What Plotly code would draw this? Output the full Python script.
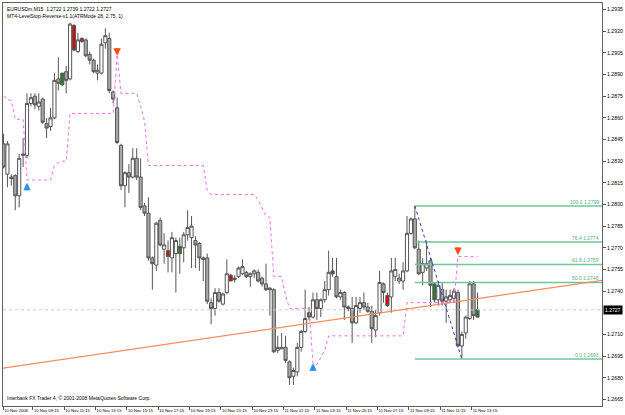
import plotly.graph_objects as go

# ---------------- data ----------------
opens = [
1.2842,1.2821,1.2819,1.2820,1.2806,1.2834,1.2834,1.2870,1.2875,1.2868,
1.2873,1.2856,1.2854,1.2860,1.2887,1.2883,1.2892,1.2887,1.2924,1.2906,
1.2915,1.2914,1.2904,1.2900,1.2891,1.2891,1.2912,1.2915,1.2878,1.2867,
1.2841,1.2813,1.2822,1.2819,1.2832,1.2819,1.2799,1.2794,1.2763,1.2758,
1.2789,1.2769,1.2768,1.2763,1.2766,1.2766,1.2770,1.2779,1.2777,1.2775,
1.2773,1.2763,1.2763,1.2732,1.2728,1.2739,1.2731,1.2739,1.2751,1.2748,
1.2750,1.2752,1.2753,1.2750,1.2752,1.2753,1.2749,1.2745,1.2742,1.2741,
1.2699,1.2700,1.2701,1.2691,1.2681,1.2684,1.2701,1.2712,1.2722,1.2722,
1.2734,1.2728,1.2734,1.2741,1.2754,1.2750,1.2736,1.2739,1.2728,1.2728,
1.2718,1.2728,1.2732,1.2729,1.2726,1.2713,1.2725,1.2745,1.2737,1.2736,
1.2750,1.2747,1.2747,1.2754,1.2780,1.2790,1.2769,1.2753,1.2756,1.2761,
1.2745,1.2734,1.2741,1.2733,1.2734,1.2735,1.2739,1.2702,1.2711,1.2721,
1.2745,1.2722]
highs = [
1.2849,1.2844,1.2821,1.2821,1.2835,1.2846,1.2877,1.2877,1.2877,1.2877,
1.2874,1.2860,1.2867,1.2891,1.2902,1.2891,1.2896,1.2926,1.2925,1.2919,
1.2916,1.2915,1.2906,1.2901,1.2897,1.2915,1.2922,1.2919,1.2879,1.2874,
1.2842,1.2823,1.2828,1.2839,1.2839,1.2832,1.2801,1.2805,1.2764,1.2788,
1.2791,1.2780,1.2775,1.2781,1.2777,1.2777,1.2781,1.2796,1.2792,1.2778,
1.2774,1.2764,1.2766,1.2735,1.2742,1.2742,1.2739,1.2762,1.2752,1.2751,
1.2757,1.2762,1.2754,1.2753,1.2755,1.2755,1.2750,1.2759,1.2743,1.2742,
1.2709,1.2711,1.2709,1.2692,1.2687,1.2704,1.2713,1.2741,1.2729,1.2739,
1.2739,1.2735,1.2747,1.2768,1.2763,1.2763,1.2741,1.2740,1.2730,1.2736,
1.2736,1.2736,1.2739,1.2732,1.2730,1.2727,1.2754,1.2746,1.2739,1.2763,
1.2763,1.2752,1.2760,1.2792,1.2791,1.2799,1.2775,1.2763,1.2775,1.2763,
1.2746,1.2747,1.2746,1.2741,1.2741,1.2742,1.2741,1.2712,1.2723,1.2747,
1.2747,1.2739]
lows = [
1.2825,1.2812,1.2813,1.2796,1.2798,1.2826,1.2832,1.2868,1.2866,1.2865,
1.2856,1.2846,1.2851,1.2859,1.2879,1.2882,1.2877,1.2886,1.2906,1.2905,
1.2912,1.2902,1.2897,1.2891,1.2886,1.2890,1.2908,1.2877,1.2870,1.2842,
1.2810,1.2798,1.2808,1.2818,1.2817,1.2796,1.2792,1.2761,1.2741,1.2754,
1.2771,1.2759,1.2753,1.2753,1.2739,1.2752,1.2760,1.2775,1.2756,1.2756,
1.2754,1.2747,1.2731,1.2717,1.2723,1.2732,1.2730,1.2738,1.2747,1.2746,
1.2749,1.2751,1.2749,1.2743,1.2749,1.2746,1.2743,1.2740,1.2723,1.2697,
1.2697,1.2700,1.2690,1.2675,1.2675,1.2681,1.2698,1.2711,1.2720,1.2721,
1.2720,1.2722,1.2732,1.2737,1.2750,1.2735,1.2734,1.2720,1.2726,1.2704,
1.2717,1.2725,1.2727,1.2725,1.2704,1.2708,1.2723,1.2732,1.2729,1.2725,
1.2747,1.2745,1.2741,1.2753,1.2779,1.2769,1.2751,1.2744,1.2754,1.2729,
1.2732,1.2730,1.2730,1.2718,1.2732,1.2732,1.2701,1.2693,1.2707,1.2720,
1.2720,1.2722]
closes = [
1.2826,1.2842,1.2818,1.2806,1.2832,1.2835,1.2870,1.2874,1.2869,1.2871,
1.2857,1.2853,1.2860,1.2886,1.2884,1.2891,1.2886,1.2925,1.2907,1.2914,
1.2913,1.2903,1.2900,1.2892,1.2893,1.2911,1.2917,1.2879,1.2873,1.2843,
1.2813,1.2822,1.2819,1.2832,1.2819,1.2798,1.2794,1.2763,1.2759,1.2787,
1.2772,1.2772,1.2764,1.2777,1.2775,1.2771,1.2779,1.2784,1.2785,1.2772,
1.2763,1.2762,1.2733,1.2728,1.2739,1.2733,1.2738,1.2752,1.2747,1.2749,
1.2756,1.2757,1.2750,1.2752,1.2754,1.2747,1.2745,1.2741,1.2741,1.2698,
1.2701,1.2701,1.2692,1.2680,1.2685,1.2701,1.2712,1.2721,1.2725,1.2734,
1.2728,1.2734,1.2741,1.2753,1.2752,1.2736,1.2739,1.2729,1.2729,1.2718,
1.2730,1.2732,1.2729,1.2726,1.2714,1.2723,1.2746,1.2739,1.2730,1.2754,
1.2755,1.2749,1.2754,1.2780,1.2790,1.2770,1.2752,1.2759,1.2759,1.2744,
1.2734,1.2744,1.2733,1.2736,1.2737,1.2740,1.2702,1.2710,1.2722,1.2745,
1.2723,1.2727]

red_bars = [18, 20, 42, 58, 84, 98]
green_bars = [15, 45, 78, 88, 110, 121]

stop_level = [
1.2875,1.2873,1.2872,1.2859,1.2859,1.2859,1.2817,1.2817,1.2817,1.2817,
1.2817,1.2817,1.2817,1.2827,1.2829,1.2830,1.2830,1.2863,1.2863,1.2863,
1.2863,1.2863,1.2863,1.2863,1.2863,1.2863,1.2863,1.2863,1.2863,1.2904,
1.2877,1.2877,1.2877,1.2877,1.2877,1.2868,1.2858,1.2827,1.2827,1.2827,
1.2827,1.2827,1.2827,1.2827,1.2827,1.2827,1.2827,1.2827,1.2827,1.2827,
1.2827,1.2827,1.2810,1.2807,1.2807,1.2807,1.2807,1.2807,1.2807,1.2807,
1.2807,1.2807,1.2807,1.2807,1.2807,1.2803,1.2797,1.2792,1.2791,1.2750,
1.2750,1.2750,1.2737,1.2728,1.2728,1.2728,1.2728,1.2728,1.2728,1.2690,
1.2689,1.2694,1.2699,1.2709,1.2709,1.2709,1.2709,1.2709,1.2709,1.2709,
1.2709,1.2709,1.2709,1.2709,1.2709,1.2709,1.2709,1.2709,1.2709,1.2709,
1.2709,1.2709,1.2709,1.2732,1.2732,1.2732,1.2732,1.2732,1.2732,1.2732,
1.2732,1.2732,1.2732,1.2732,1.2732,1.2732,1.2764,1.2764,1.2764,1.2764,
1.2764,1.2764]

# arrow tips (price the arrow points at)
buy_arrow_bars = [6, 79]
buy_arrow_prices = [1.2815, 1.2690]
sell_arrow_bars = [29, 116]
sell_arrow_prices = [1.2903, 1.2765]

trend_bars = [-0.4, 153.0]
trend_prices = [1.26865, 1.27475]

fib_high_bar, fib_high = 105, 1.2799
fib_low_bar, fib_low = 117, 1.2693
fib_ratios = [1.0, 0.764, 0.618, 0.5, 0.0]

current_price = 1.2727

price_ticks = [1.2665, 1.2680, 1.2695, 1.2710, 1.2740, 1.2755, 1.2770, 1.2785,
               1.2800, 1.2815, 1.2830, 1.2845, 1.2860, 1.2875, 1.2890, 1.2905,
               1.2920, 1.2935]

tick_bars = [0, 8, 16, 24, 32, 40, 48, 56, 64, 72, 80, 88, 96, 104, 112, 120]
tick_labels = ["10 Nov 2008", "10 Nov 09:15", "10 Nov 11:15", "10 Nov 13:15",
               "10 Nov 15:15", "10 Nov 17:15", "10 Nov 19:15", "10 Nov 21:15",
               "10 Nov 23:15", "11 Nov 01:15", "11 Nov 03:15", "11 Nov 05:15",
               "11 Nov 07:15", "11 Nov 09:15", "11 Nov 11:15", "11 Nov 13:15"]

title_line1 = "EURUSDm,M15  1.2722 1.2739 1.2722 1.2727"
title_line2 = "MT4-LevelStop-Reverse-v1.1(ATRMode 28, 2.75, 1)"
copyright_text = "Interbank FX Trader 4, \u00a9 2001-2008 MetaQuotes Software Corp."

# ---------------- styling ----------------
FONT = "Liberation Sans, Arial, sans-serif"
XMIN, XMAX = -0.13, 152.78
YMIN, YMAX = 1.26604, 1.29396
OUTLINE = "#555555"

fig = go.Figure()

# fibonacci retracement
fib_range = fib_high - fib_low
for r in fib_ratios:
    lvl = fib_low + r * fib_range
    fig.add_trace(go.Scatter(x=[fib_high_bar, XMAX], y=[lvl, lvl], mode="lines",
                             line=dict(color="#6cc79a", width=1.5),
                             hoverinfo="skip", showlegend=False))
    fig.add_annotation(x=XMAX, y=lvl, xref="x", yref="y", xanchor="right", yanchor="bottom",
                       text=f"{r*100:.1f} {lvl:.4f}", showarrow=False, yshift=-1, xshift=-1,
                       font=dict(family=FONT, size=5, color="#4fb07f"))
fig.add_trace(go.Scatter(x=[fib_high_bar, fib_low_bar], y=[fib_high, fib_low], mode="lines",
                         line=dict(color="#3333cc", width=1, dash="dot"),
                         hoverinfo="skip", showlegend=False))

# current price dotted line
fig.add_trace(go.Scatter(x=[XMIN, XMAX], y=[current_price, current_price], mode="lines",
                         line=dict(color="#c8c8c8", width=1, dash="dot"),
                         hoverinfo="skip", showlegend=False))

# candles
special = set(red_bars) | set(green_bars)
idx = [i for i in range(len(opens)) if i not in special]
fig.add_trace(go.Candlestick(
    x=idx, open=[opens[i] for i in idx], high=[highs[i] for i in idx],
    low=[lows[i] for i in idx], close=[closes[i] for i in idx],
    increasing=dict(fillcolor="#ffffff", line=dict(color=OUTLINE, width=1)),
    decreasing=dict(fillcolor="#a8a8a8", line=dict(color=OUTLINE, width=1)),
    whiskerwidth=0, showlegend=False, hoverinfo="skip"))
for bars, col in ((red_bars, "#e00000"), (green_bars, "#2e7d32")):
    fig.add_trace(go.Candlestick(
        x=bars, open=[opens[i] for i in bars], high=[highs[i] for i in bars],
        low=[lows[i] for i in bars], close=[closes[i] for i in bars],
        increasing=dict(fillcolor=col, line=dict(color=OUTLINE, width=1)),
        decreasing=dict(fillcolor=col, line=dict(color=OUTLINE, width=1)),
        whiskerwidth=0, showlegend=False, hoverinfo="skip"))

# trend line
fig.add_trace(go.Scatter(x=trend_bars, y=trend_prices, mode="lines",
                         line=dict(color="#ff8a5c", width=1.2),
                         hoverinfo="skip", showlegend=False))

# level stop line
fig.add_trace(go.Scatter(x=list(range(len(stop_level))), y=stop_level, mode="lines",
                         line=dict(color="#f06cf0", width=1, dash="dot"),
                         hoverinfo="skip", showlegend=False))

# signal arrows
for b, p in zip(buy_arrow_bars, buy_arrow_prices):
    fig.add_annotation(x=b, y=p, xref="x", yref="y", ax=0, ay=9, showarrow=True,
                       arrowhead=2, arrowsize=0.6, arrowwidth=2.5, arrowcolor="#2f8fff", text="")
for b, p in zip(sell_arrow_bars, sell_arrow_prices):
    fig.add_annotation(x=b, y=p, xref="x", yref="y", ax=0, ay=-9, showarrow=True,
                       arrowhead=2, arrowsize=0.6, arrowwidth=2.5, arrowcolor="#ff4a10", text="")

# texts
fig.add_annotation(x=0.003, y=0.997, xref="paper", yref="paper", xanchor="left", yanchor="top",
                   text=title_line1 + "<br>" + title_line2, showarrow=False, align="left",
                   font=dict(family=FONT, size=5, color="#000000"))
fig.add_annotation(x=0.003, y=0.008, xref="paper", yref="paper", xanchor="left", yanchor="bottom",
                   text=copyright_text, showarrow=False,
                   font=dict(family=FONT, size=5, color="#000000"))
fig.add_annotation(x=1.0, y=current_price, xref="paper", yref="y", xanchor="left", yanchor="middle",
                   text=f"{current_price:.4f}", showarrow=False, bgcolor="#000000",
                   borderpad=1, xshift=1,
                   font=dict(family=FONT, size=5, color="#ffffff"))

tick_pos = [max(b - 0.5, XMIN + 0.05) for b in tick_bars]

fig.update_layout(
    width=625, height=415, autosize=False,
    margin=dict(l=2, r=19, t=2, b=9, pad=0),
    paper_bgcolor="#ffffff", plot_bgcolor="#ffffff",
    boxgap=0.2, boxgroupgap=0,
    showlegend=False,
    xaxis=dict(range=[XMIN, XMAX], tickvals=tick_pos, ticktext=tick_labels,
               ticks="outside", ticklen=3, tickcolor="#505050", tickangle=0,
               ticklabelposition="outside right",
               showline=True, linecolor="#606060", linewidth=1, mirror=True,
               showgrid=False, zeroline=False, rangeslider=dict(visible=False),
               tickfont=dict(family=FONT, size=4.2, color="#000000")),
    yaxis=dict(range=[YMIN, YMAX], side="right", tickvals=price_ticks,
               tickformat=".4f", ticks="outside", ticklen=3, tickcolor="#505050",
               showline=True, linecolor="#606060", linewidth=1, mirror=True,
               showgrid=False, zeroline=False,
               tickfont=dict(family=FONT, size=5.2, color="#000000")),
)

fig.write_html("out.html")
